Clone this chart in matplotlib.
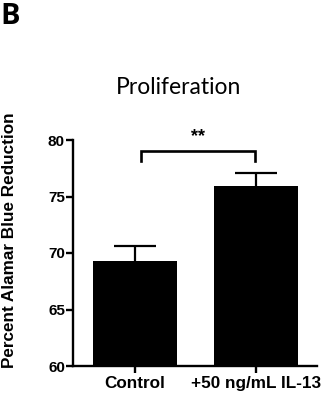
import numpy as np
import matplotlib
matplotlib.use("Agg")
import matplotlib.pyplot as plt

# data
groups = ["Control", "+50 ng/mL IL-13"]
means = [69.3, 75.9]
sem = [1.35, 1.22]
yticks = [60, 65, 70, 75, 80]
sig_label = "**"
bracket_y = 79.0
bracket_drop = 0.9

plt.rcParams['font.family'] = ['Liberation Sans', 'DejaVu Sans']

W, H = 325, 403
fig = plt.figure(figsize=(W / 100, H / 100), dpi=100)
ax = fig.add_axes([73 / W, (H - 366) / H, (317 - 73) / W, (366 - 140) / H])

x = np.arange(len(groups))
ax.bar(x, means, width=0.69, color='black', zorder=3)
eb = ax.errorbar(x, means, yerr=[np.zeros(len(sem)), sem], fmt='none',
                 ecolor='black', elinewidth=1.6, capsize=15, capthick=1.6, zorder=2)
eb[1][0].set_visible(False)

ax.set_ylim(60, 80)
ax.set_xlim(-0.51, 1.505)
ax.set_yticks(yticks)
ax.set_xticks(x)
ax.set_xticklabels(groups, fontsize=12.3, fontweight='bold')
ax.set_yticklabels([str(t) for t in yticks], fontsize=11, fontweight='bold')
ax.tick_params(axis='y', length=5, width=1.7, pad=0.8)
ax.tick_params(axis='x', length=5, width=1.7, pad=2)

for s in ['top', 'right']:
    ax.spines[s].set_visible(False)
for s in ['left', 'bottom']:
    ax.spines[s].set_linewidth(1.7)

ax.set_ylabel("Percent Alamar Blue Reduction", fontsize=12.3, fontweight='bold')
ax.yaxis.set_label_coords(17 / W, 1 - 240 / H, transform=fig.transFigure)

# significance bracket
bx0, bx1 = 0.05, 0.99
ax.plot([bx0, bx0, bx1, bx1],
        [bracket_y - bracket_drop, bracket_y, bracket_y, bracket_y - bracket_drop],
        color='black', lw=1.9, clip_on=False, solid_joinstyle='miter')
ax.text((bx0 + bx1) / 2, 80.3, sig_label, ha='center', va='center',
        fontsize=13, fontweight='bold', clip_on=False)

fig.text(179 / W, 1 - 93.5 / H, "Proliferation", ha='center', va='baseline',
         fontsize=16.5, family='Lato')
fig.text(0, 1 - 24 / H, "B", ha='left', va='baseline',
         fontsize=21, fontweight='bold', family='Open Sans')

fig.savefig("out.png", dpi=100)
